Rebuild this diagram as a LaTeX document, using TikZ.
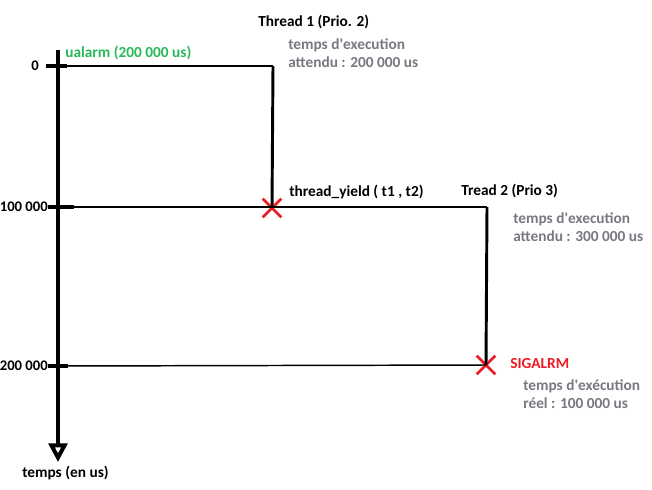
\documentclass[tikz,border=0pt]{standalone}
\usepackage{fontspec}
\setmainfont{Carlito}
\usepackage{tikz}
\usetikzlibrary{arrows.meta,shapes.misc}
\definecolor{myblack}{rgb}{0.000,0.000,0.000}
\definecolor{mywhite}{rgb}{1.000,1.000,1.000}
\definecolor{mygreen}{rgb}{0.157,0.725,0.345}
\definecolor{mygray}{rgb}{0.470,0.470,0.510}
\definecolor{myred}{rgb}{0.930,0.110,0.140}
\tikzstyle{txt}=[anchor=west,inner sep=0pt,font=\fontsize{11.5}{13.5}\selectfont\bfseries,text=myblack]
\tikzstyle{note}=[txt,text=mygray,align=left]
\tikzstyle{ticktxt}=[txt,anchor=east,font=\fontsize{11}{13}\selectfont\bfseries]
\tikzstyle{axis}=[line width=3pt,draw=myblack]
\tikzstyle{tickmark}=[line width=3pt,draw=myblack]
\tikzstyle{run}=[line width=2.2pt,draw=myblack]
\tikzstyle{link}=[line width=1.1pt,draw=myblack]
\tikzstyle{hit}=[cross out,draw=myred,line width=1.9pt,minimum size=12pt,inner sep=0pt]

\begin{document}
\begin{tikzpicture}[x=0.75pt,y=-0.75pt]
	\useasboundingbox (0,0) rectangle (652,489);
	% time axis
		\coordinate (0) at (58,50);
		\coordinate (1) at (58,462);
		\coordinate (2) at (46,66);
		\coordinate (3) at (67,66);
		\coordinate (4) at (48,207);
		\coordinate (5) at (74,207);
		\coordinate (6) at (48,366);
		\coordinate (7) at (68,366);
		\coordinate (8) at (58,66);
		\coordinate (9) at (58,207);
		\coordinate (10) at (58,366);
		\node [style=ticktxt] (11) at (39,66) {0};
		\node [style=ticktxt] (12) at (48,207) {100 000};
		\node [style=ticktxt] (13) at (48,366) {200 000};
		\node [style=txt] (14) at (22,473) {temps (en us)};
	% thread 1
		\coordinate (20) at (273,66);
		\node [style=hit] (21) at (272,208) {};
		\node [style=txt,text=mygreen] (22) at (65,53) {ualarm (200 000 us)};
		\node [style=txt] (23) at (258,22) {Thread 1 (Prio. 2)};
		\node [style=note] (24) at (288,53) {temps d\textquotesingle execution\\attendu : 200 000 us};
		\node [style=txt] (25) at (289,192) {thread\_yield ( t1 , t2)};
	% thread 2
		\coordinate (30) at (487,207);
		\node [style=hit] (31) at (486,365) {};
		\node [style=txt] (32) at (461,191) {Tread 2 (Prio 3)};
		\node [style=note] (33) at (513,227) {temps d\textquotesingle execution\\attendu : 300 000 us};
		\node [style=txt,text=myred] (34) at (510,364) {SIGALRM};
		\node [style=note] (35) at (523,394) {temps d\textquotesingle exécution\\réel : 100 000 us};

		\draw [style=link] (8) to (20);
		\draw [style=link] (9) to (30);
		\draw [style=link] (10) to (31.center);
		\draw [style=run] (20) to (21.center);
		\draw [style=run] (30) to (31.center);
		\draw [style=tickmark] (2) to (3);
		\draw [style=tickmark] (4) to (5);
		\draw [style=tickmark] (6) to (7);
		\draw [style=axis,-{Triangle[open,length=14pt,width=14pt]}] (0) to (1);
\end{tikzpicture}
\end{document}
